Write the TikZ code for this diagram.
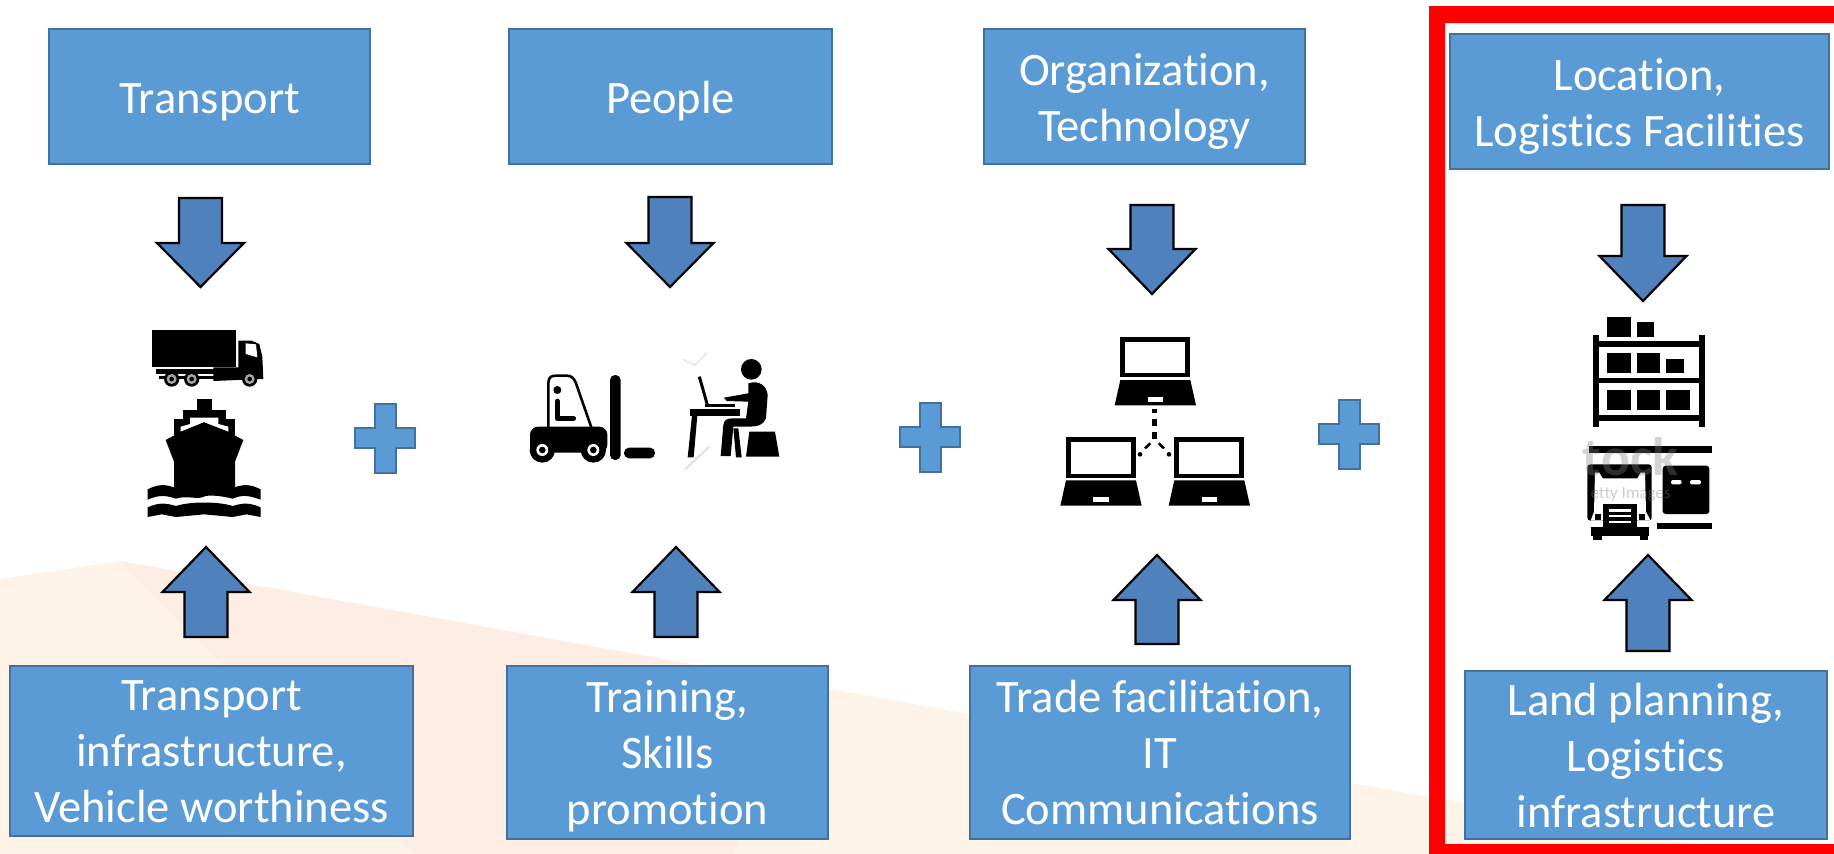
\documentclass[tikz,border=0pt]{standalone}
\usepackage{fontspec}
\setmainfont{Carlito}[Ligatures=NoCommon]
\definecolor{boxfill}{HTML}{5B9BD5}
\definecolor{boxline}{HTML}{41719C}
\definecolor{arrowfill}{HTML}{4F81BD}
\definecolor{cream}{HTML}{FEF3E7}
\definecolor{pinkish}{HTML}{FEEDE3}
\newcommand{\bstrutB}{\rule[-10pt]{0pt}{10pt}}
\newcommand{\blockdown}[4]{\draw[blockarrow] (#1-21.5,#2) -- (#1+21.5,#2) -- (#1+21.5,#3) -- (#1+43.5,#3) -- (#1,#4) -- (#1-43.5,#3) -- (#1-21.5,#3) -- cycle;}
\newcommand{\blockup}[4]{\draw[blockarrow] (#1-21.5,#2) -- (#1+21.5,#2) -- (#1+21.5,#3) -- (#1+43.5,#3) -- (#1,#4) -- (#1-43.5,#3) -- (#1-21.5,#3) -- cycle;}
\newcommand{\plusshape}[6]{\draw[plusmark] (#3,#2+1) -- (#4,#2+1) -- (#4,#5) -- (#1+61,#5) -- (#1+61,#6) -- (#4,#6) -- (#4,#2+70) -- (#3,#2+70) -- (#3,#6) -- (#1+1,#6) -- (#1+1,#5) -- (#3,#5) -- cycle;}
\newcommand{\laptopicon}[2]{%
 \begin{scope}[shift={(#1,#2)}]
  \fill[black] (241,50) rectangle (451,172);
  \fill[white] (256,65) rectangle (436,160);
  \fill[black] (241,180) -- (451,180) -- (468,256) -- (224,256) -- cycle;
  \fill[white] (323,231) rectangle (369,245);
 \end{scope}}
\tikzset{
 box/.style={draw=boxline,line width=2pt,fill=boxfill,text=white,font=\fontsize{46.5}{56}\selectfont,align=center,inner sep=0pt},
 blockarrow/.style={draw=black,line width=2.2pt,fill=arrowfill,line join=miter},
 plusmark/.style={draw=boxline,line width=2pt,fill=boxfill},
 zoomunits/.style={x=0.33333pt,y=-0.33333pt},
}
\begin{document}
\begin{tikzpicture}[x=1pt,y=-1pt]
\useasboundingbox (0,0) rectangle (1834,854);
% background
\fill[cream] (0,579) -- (120,561) -- (1834,870) -- (1834,854) -- (0,854) -- cycle;
\fill[pinkish] (120,561) -- (790,682) -- (734,854) -- (415,854) -- (217,660) -- cycle;
% boxes
\newcommand{\tbox}[7]{\node[box,minimum width=#3-#2,minimum height=#5-#4] (#1) at ({(#2+#3)/2},{(#4+#5)/2}) {\rule{0pt}{#7pt}#6\bstrutB};}
\tbox{topA}{49}{370}{29}{164}{Transport}{44.5}
\tbox{topB}{509}{832}{29}{164}{People}{44.5}
\tbox{topC}{984}{1305}{29}{164}{Organization,\\Technology}{44.5}
\tbox{topD}{1450}{1829}{34}{169}{Location,\\Logistics Facilities}{44.5}
\tbox{botA}{10}{413}{666}{836}{Transport\\infrastructure,\\Vehicle worthiness}{41.5}
\tbox{botB}{507}{828}{666}{839}{Training,\\Skills\\promotion}{42.5}
\tbox{botC}{970}{1350}{666}{839}{Trade facilitation,\\IT\\Communications}{42.5}
\tbox{botD}{1465}{1827}{671}{839}{Land planning,\\Logistics\\infrastructure}{43.5}
% red frame
\fill[red] (1429,6) -- (1834,6) -- (1834,23) -- (1445,23) -- (1445,844) -- (1834,844) -- (1834,854) -- (1429,854) -- cycle;
% arrows
\blockdown{200.5}{198}{243}{287}
\blockdown{670}{197}{243}{287}
\blockdown{1152}{205}{249}{294}
\blockdown{1643}{205}{256}{301}
\blockup{206}{637}{592}{547}
\blockup{676}{637}{592}{547}
\blockup{1157}{644}{600}{555}
\blockup{1648}{651}{600}{555}
% plus signs
\plusshape{354}{403}{375}{396}{428}{448}
\plusshape{899}{402}{920}{941}{427}{447}
\plusshape{1318}{399}{1339}{1360}{424}{444}
% truck and ship
\begin{scope}[shift={(100,280)},zoomunits]
 \fill[black] (157,150) rectangle (408,262);
 \fill[black] (168,266) -- (345,266) -- (345,282) -- (168,282) -- cycle;
 \fill[black] (178,288) rectangle (345,298);
 \fill[black] (415,182) -- (455,182) -- (478,192) -- (487,230) -- (490,297) -- (340,303) -- (340,262) -- (415,262) -- cycle;
 \fill[white] (437,190) -- (468,193) -- (472,232) -- (437,222) -- cycle;
 \foreach \wx in {215,275,449}{
  \fill[black] (\wx,297) circle (23);
  \fill[gray!70] (\wx,297) circle (15);
  \fill[black] (\wx,297) circle (7);
 }
 \fill[black] (290,356) rectangle (337,392);
 \fill[black] (250,390) rectangle (378,418);
 \fill[black] (222,416) rectangle (405,465);
 \fill[white] (270,413) -- (355,413) -- (355,432) -- (385,440) -- (385,455) -- (312,427) -- (242,455) -- (242,440) -- (270,432) -- cycle;
 \fill[black] (242,456) -- (312,427) -- (385,456) -- (430,480) -- (405,545) -- (405,630) -- (222,630) -- (222,545) -- (197,480) -- cycle;
 \fill[black] (143,628) .. controls (175,612) and (195,612) .. (228,624) -- (398,624) .. controls (430,612) and (450,612) .. (482,628) -- (482,659) .. controls (450,648) and (430,642) .. (398,656) .. controls (355,645) and (320,645) .. (312,650) .. controls (290,660) and (260,645) .. (228,656) .. controls (195,645) and (175,645) .. (143,659) -- cycle;
 \fill[black] (143,682) .. controls (175,668) and (195,668) .. (228,678) .. controls (270,664) and (355,664) .. (398,678) .. controls (430,668) and (450,668) .. (482,682) -- (482,711) -- (440,703) -- (398,711) -- (312,703) -- (228,711) -- (185,703) -- (143,711) -- cycle;
\end{scope}
% forklift and person
\begin{scope}[shift={(500,330)},zoomunits]
 \draw[black,line width=2.6pt,line join=round] (145,295) -- (145,160) .. controls (145,140) and (155,137) .. (170,137) -- (200,137) .. controls (215,137) and (222,145) .. (228,160) -- (275,295);
 \fill[black] (172,180) circle (12);
 \draw[black,line width=5.5pt,line cap=round,line join=round] (172,214) -- (172,265) -- (220,265);
 \fill[black,rounded corners=8pt] (90,290) rectangle (322,368);
 \foreach \wx in {127,280}{
  \fill[black] (\wx,360) circle (38);
  \fill[white] (\wx,360) circle (18);
  \fill[black] (\wx,360) circle (10);
 }
 \fill[black,rounded corners=5pt] (330,135) rectangle (362,390);
 \fill[black,rounded corners=5pt] (372,353) rectangle (465,385);
 \fill[black] (754,118) circle (31);
 \draw[black,line width=3pt] (598,140) -- (622,224);
 \fill[black] (615,222) rectangle (705,232);
 \fill[black] (570,237) rectangle (720,257);
 \fill[black] (576,257) -- (592,257) -- (581,382) -- (563,382) -- cycle;
 \fill[black] (700,295) -- (715,295) -- (725,382) -- (708,382) -- cycle;
 \fill[black] (745,160) .. controls (775,150) and (800,165) .. (803,195) -- (798,265) .. controls (790,285) and (775,290) .. (740,290) -- (700,290) -- (692,378) -- (662,378) -- (670,285) .. controls (672,270) and (680,265) .. (700,265) -- (738,265) -- (745,215) -- (680,213) -- (672,203) -- (745,190) -- cycle;
 \fill[black] (748,305) -- (825,305) -- (838,380) -- (738,380) -- cycle;
 \draw[black!12,line width=1.2pt] (548,88) -- (585,105) -- (620,70);
 \draw[black!12,line width=2pt] (555,418) -- (628,350);
\end{scope}
% network of laptops
\begin{scope}[shift={(1040,320)},zoomunits]
 \laptopicon{0}{0}
 \laptopicon{-163}{301}
 \laptopicon{162}{301}
 \fill[black] (337,267) rectangle (350,280);
 \fill[black] (337,297) rectangle (350,317);
 \fill[black] (337,337) rectangle (350,358);
 \foreach \px/\py in {300/403,387/403}{\fill[black] (\px,\py) circle (7);}
 \draw[black,line width=2.6pt] (315,385) -- (331,370);
 \draw[black,line width=2.6pt] (356,370) -- (372,385);
\end{scope}
% shelves and loading bay
\begin{scope}[shift={(1560,300)},zoomunits]
 \fill[black] (98,104) rectangle (118,380);
 \fill[black] (416,104) rectangle (436,380);
 \foreach \sy/\sz in {122/140,234/250,345/362}{\fill[black] (118,\sy) rectangle (416,\sz);}
 \fill[black] (140,50) rectangle (212,110);
 \fill[black] (230,67) rectangle (282,110);
 \fill[black] (140,160) rectangle (212,220);
 \fill[black] (230,160) rectangle (301,220);
 \fill[black] (319,177) rectangle (371,220);
 \fill[black] (140,270) rectangle (212,331);
 \fill[black] (230,270) rectangle (301,331);
 \fill[black] (319,270) rectangle (390,331);
 \fill[black] (88,438) rectangle (455,458);
 \fill[black,rounded corners=3pt] (82,493) rectangle (275,662);
 \fill[white] (105,518) -- (118,518) -- (128,535) -- (232,535) -- (242,518) -- (255,518) -- (258,635) -- (272,662) -- (92,662) -- (102,635) -- cycle;
 \fill[black] (105,643) rectangle (122,660);
 \fill[black] (238,643) rectangle (255,660);
 \fill[black] (128,612) rectangle (232,682);
 \fill[black] (92,682) rectangle (268,708);
 \fill[black] (100,708) rectangle (125,720);
 \fill[black] (240,708) rectangle (265,720);
 \foreach \ly in {628,645,662}{\fill[white] (146,\ly) rectangle (214,\ly+7);}
 \fill[black,rounded corners=3pt] (308,497) rectangle (448,642);
 \fill[white,rounded corners=2pt] (333,540) rectangle (365,553);
 \fill[white,rounded corners=2pt] (390,540) rectangle (423,553);
 \fill[black] (290,668) rectangle (455,686);
 \node[text=gray,opacity=.35,font=\bfseries\fontsize{54}{54}\selectfont,inner sep=0pt] (wmA) at (212,470) {tock};
 \node[text=gray,opacity=.4,font=\fontsize{17}{17}\selectfont,inner sep=0pt] (wmB) at (212,585) {etty Images};
\end{scope}
\end{tikzpicture}
\end{document}
